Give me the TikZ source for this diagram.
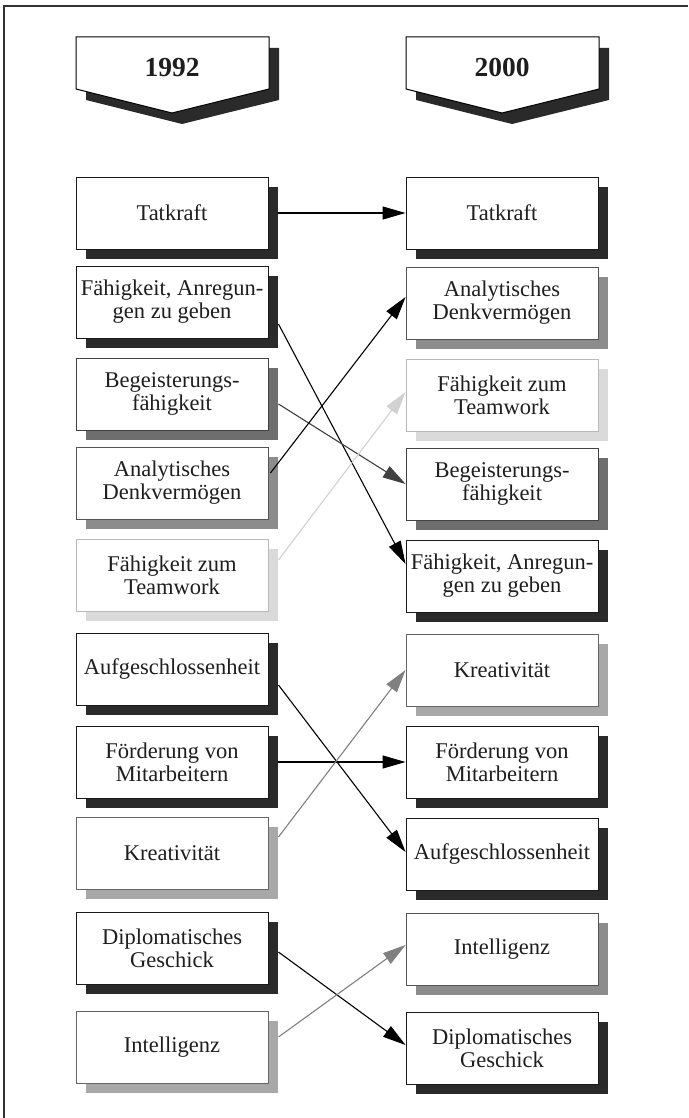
\documentclass[tikz,border=0pt]{standalone}
\usepackage{fontspec}
\setmainfont{Liberation Serif}
\usetikzlibrary{shadows,arrows.meta}
\definecolor{sdark}{HTML}{2A2A2A}
\definecolor{smid}{HTML}{6E6E6E}
\definecolor{sgray}{HTML}{8C8C8C}
\definecolor{slight}{HTML}{A8A8A8}
\definecolor{spale}{HTML}{DADADA}
\definecolor{txt}{HTML}{1E1E1E}
\tikzset{
  box/.style={draw=#1!60!black, line width=0.9pt, fill=white, minimum width=192pt, minimum height=72pt,
    inner sep=0pt, align=center, text=txt, font=\fontsize{22.5}{23}\selectfont,
    drop shadow={shadow xshift=10pt, shadow yshift=-10pt, fill=#1, opacity=1}},
  palebox/.style={draw=spale!85!black, line width=0.9pt, fill=white, minimum width=192pt, minimum height=72pt,
    inner sep=0pt, align=center, text=txt, font=\fontsize{22.5}{23}\selectfont,
    drop shadow={shadow xshift=10pt, shadow yshift=-10pt, fill=spale, opacity=1}},
  arr/.style={draw=#1, line width=1.1pt, -{Triangle[length=23pt,width=13pt,fill=#1]}},
  hdr/.style={fill=white, draw=black, line width=1pt},
  hdrshadow/.style={fill=sdark},
  hdrtxt/.style={font=\fontsize{27.5}{28}\selectfont\bfseries, text=txt, anchor=base},
}
\begin{document}
\begin{tikzpicture}[x=1pt,y=-1pt]
\useasboundingbox (0,0) rectangle (688,1118);
\fill[white] (0,0) rectangle (688,1118);
% frame
\draw[line width=1.6pt, color=black!80] (4,1118) -- (4,6) -- (688,6);
% headers
\fill[hdrshadow] (86,48) -- (279,48) -- (279,100) -- (182,124) -- (86,100) -- cycle;
\draw[hdr] (76,37) -- (269,37) -- (269,89) -- (172,113) -- (76,89) -- cycle;
\node[hdrtxt] (H1) at (172,77) {1992};
\fill[hdrshadow] (416,48) -- (609,48) -- (609,100) -- (512,124) -- (416,100) -- cycle;
\draw[hdr] (406,37) -- (599,37) -- (599,89) -- (502,113) -- (406,89) -- cycle;
\node[hdrtxt] (H2) at (502,77) {2000};
% left column
\node[box=sdark] (L1) at (172,213) {Tatkraft};
\node[box=sdark] (L2) at (172,302) {Fähigkeit, Anregun-\\gen zu geben};
\node[box=smid] (L3) at (172,394) {Begeisterungs-\\fähigkeit};
\node[box=sgray] (L4) at (172,483) {Analytisches\\Denkvermögen};
\node[palebox] (L5) at (172,575) {Fähigkeit zum\\Teamwork};
\node[box=sdark] (L6) at (172,669) {Aufgeschlossenheit};
\node[box=sdark] (L7) at (172,762) {Förderung von\\Mitarbeitern};
\node[box=slight] (L8) at (172,853) {Kreativität};
\node[box=sdark] (L9) at (172,948) {Diplomatisches\\Geschick};
\node[box=slight] (L10) at (172,1047) {Intelligenz};
% right column
\node[box=sdark] (R1) at (502,213) {Tatkraft};
\node[box=sgray] (R2) at (502,303) {Analytisches\\Denkvermögen};
\node[palebox] (R3) at (502,395) {Fähigkeit zum\\Teamwork};
\node[box=smid] (R4) at (502,484) {Begeisterungs-\\fähigkeit};
\node[box=sdark] (R5) at (502,576) {Fähigkeit, Anregun-\\gen zu geben};
\node[box=slight] (R6) at (502,670) {Kreativität};
\node[box=sdark] (R7) at (502,762) {Förderung von\\Mitarbeitern};
\node[box=sdark] (R8) at (502,854) {Aufgeschlossenheit};
\node[box=sgray] (R9) at (502,949) {Intelligenz};
\node[box=sdark] (R10) at (502,1048) {Diplomatisches\\Geschick};
% connectors
\draw[arr=black] ([xshift=10pt]L1.east) -- (R1.west);
\draw[arr=black] ([xshift=10pt,yshift=-22pt]L2.east) -- ([yshift=12pt]R5.west);
\draw[arr=black!75] ([xshift=10pt,yshift=-10pt]L3.east) -- (R4.west);
\draw[arr=black] ([xshift=2pt,yshift=10pt]L4.east) -- ([yshift=6pt]R2.west);
\draw[arr=black!18] ([xshift=10pt,yshift=15pt]L5.east) -- ([yshift=3pt]R3.west);
\draw[arr=black] ([xshift=10pt,yshift=-16pt]L6.east) -- ([yshift=2pt]R8.west);
\draw[arr=black] ([xshift=10pt]L7.east) -- (R7.west);
\draw[arr=black!50] ([xshift=10pt,yshift=16pt]L8.east) -- (R6.west);
\draw[arr=black] ([xshift=10pt,yshift=-4pt]L9.east) -- ([yshift=3pt]R10.west);
\draw[arr=black!50] ([xshift=10pt,yshift=10pt]L10.east) -- ([yshift=4pt]R9.west);
\end{tikzpicture}
\end{document}
